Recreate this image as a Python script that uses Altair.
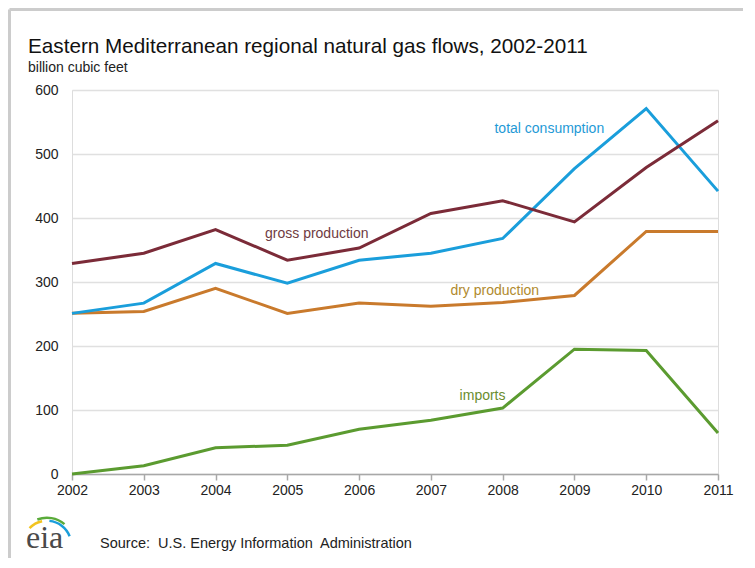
import altair as alt
import pandas as pd

years = list(range(2002, 2012))
gross_production = [329, 345, 382, 334, 353, 407, 427, 394, 479, 552]
total_consumption = [251, 267, 329, 298, 334, 345, 368, 477, 571, 442]
dry_production = [251, 254, 290, 251, 267, 262, 268, 279, 379, 379]
imports = [0, 13, 41, 45, 70, 84, 103, 195, 193, 64]

series_names = ["imports", "dry production", "total consumption", "gross production"]
series_values = [imports, dry_production, total_consumption, gross_production]
line_colors = ["#5b9b30", "#c97a2c", "#1a9edb", "#7b2b38"]

label_texts = ["gross production", "total consumption", "dry production", "imports"]
label_colors = ["#6f3b42", "#1f9ad6", "#b08a2e", "#6a8d2e"]
label_x = [2005.41, 2008.65, 2007.89, 2007.72]
label_y = [375, 539, 286, 122]

y_ticks = [0, 100, 200, 300, 400, 500, 600]

title_text = "Eastern Mediterranean regional natural gas flows, 2002-2011"
subtitle_text = "billion cubic feet"
source_text = "Source:\u00a0 U.S. Energy Information\u00a0 Administration"

FONT = "Liberation Sans"

rows = []
for name, vals in zip(series_names, series_values):
    for yr, v in zip(years, vals):
        rows.append({"year": yr, "value": v, "series": name})
df = pd.DataFrame(rows)

labels_df = pd.DataFrame({"year": label_x, "value": label_y,
                          "text": label_texts, "lcolor": label_colors})

x_enc = alt.X("year:Q",
              scale=alt.Scale(domain=[2002, 2011], nice=False, zero=False),
              axis=alt.Axis(values=years, format="d", title=None, grid=False,
                            tickSize=6, labelPadding=3, domainColor="#a8a8a8",
                            tickColor="#a8a8a8", domainWidth=1.5, tickWidth=1.5,
                            labelFontSize=14, labelColor="#222222", labelFont=FONT,
                            labelFlush=False))
y_enc = alt.Y("value:Q",
              scale=alt.Scale(domain=[0, 600], nice=False),
              axis=alt.Axis(values=y_ticks, title=None, ticks=False, domain=False,
                            gridColor="#e0e0e0", gridWidth=1.5, labelPadding=14,
                            labelFontSize=14, labelColor="#222222", labelFont=FONT))

lines = alt.Chart(df).mark_line(strokeWidth=3).encode(
    x=x_enc,
    y=y_enc,
    color=alt.Color("series:N", scale=alt.Scale(domain=series_names, range=line_colors),
                    legend=None),
    order=alt.Order("year:Q"),
)

labels = alt.Chart(labels_df).mark_text(font=FONT, fontSize=14, align="center",
                                        baseline="middle").encode(
    x="year:Q", y="value:Q", text="text:N",
    color=alt.Color("lcolor:N", scale=None),
)

title = alt.Chart().mark_text(text=title_text, font=FONT, fontSize=20.7, align="left",
                              baseline="alphabetic", color="#111111").encode(
    x=alt.value(-44), y=alt.value(-37))
subtitle = alt.Chart().mark_text(text=subtitle_text, font=FONT, fontSize=14, align="left",
                                 baseline="alphabetic", color="#222222").encode(
    x=alt.value(-44), y=alt.value(-18))
source = alt.Chart().mark_text(text=source_text, font=FONT, fontSize=14.5, align="left",
                               baseline="alphabetic", color="#222222").encode(
    x=alt.value(28), y=alt.value(458))
eia = alt.Chart().mark_text(text="eia", font="Liberation Serif", fontSize=32, align="left",
                            baseline="alphabetic", color="#4a4a4a").encode(
    x=alt.value(-46), y=alt.value(458))
arc_yellow = alt.Chart().mark_arc(theta=5.48, theta2=6.08, radius=23, radius2=25.5,
                                  color="#f2c420").encode(x=alt.value(-25), y=alt.value(455))
arc_green = alt.Chart().mark_arc(theta=5.92, theta2=6.98, radius=26, radius2=28.5,
                                 color="#5aab3a").encode(x=alt.value(-25), y=alt.value(455))
arc_blue = alt.Chart().mark_arc(theta=0.1, theta2=1.2, radius=23, radius2=25.5,
                                color="#1a9edb").encode(x=alt.value(-25), y=alt.value(455))

border_left = alt.Chart().mark_rule(color="#cccccc", strokeWidth=3).encode(
    x=alt.value(-62.5), y=alt.value(-80.5), y2=alt.value(600))
border_top = alt.Chart().mark_rule(color="#cccccc", strokeWidth=3).encode(
    x=alt.value(-62.5), x2=alt.value(800), y=alt.value(-80.5))

chart = alt.layer(
    lines, labels, title, subtitle, source, arc_yellow, arc_green, arc_blue, eia,
    border_left, border_top
).properties(
    width=646, height=384,
    autosize=alt.AutoSizeParams(type="none"),
    padding={"left": 64, "top": 82, "right": 25, "bottom": 84},
).configure_view(stroke=None).configure(font=FONT)

chart.save("out.html", embed_options={"renderer": "svg", "actions": False})
